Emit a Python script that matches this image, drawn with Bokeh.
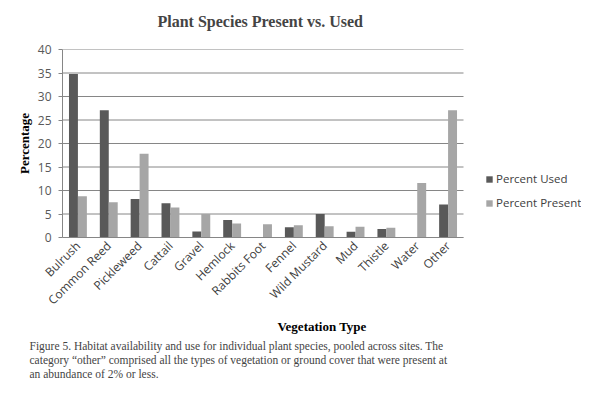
from bokeh.plotting import figure
from bokeh.models import (ColumnDataSource, Range1d, Legend, LegendItem,
                          Title, FixedTicker)
from bokeh.transform import dodge
from bokeh.embed import file_html
from bokeh.resources import INLINE

categories = ["Bulrush", "Common Reed", "Pickleweed", "Cattail", "Gravel", "Hemlock",
              "Rabbits Foot", "Fennel", "Wild Mustard", "Mud", "Thistle", "Water", "Other"]
percent_used = [34.8, 27.1, 8.2, 7.3, 1.3, 3.7, 0.0, 2.2, 5.0, 1.2, 1.8, 0.0, 7.0]
percent_present = [8.8, 7.5, 17.8, 6.4, 5.0, 3.0, 2.8, 2.6, 2.4, 2.3, 2.1, 11.6, 27.1]
y_ticks = [0, 5, 10, 15, 20, 25, 30, 35, 40]
caption = [
    "Figure 5. Habitat availability and use for individual plant species, pooled across sites.  The",
    "category \u201cother\u201d comprised all the types of vegetation or ground cover that were present at",
    "an abundance of 2% or less.",
]

n = len(categories)
centers = [i + 0.5 for i in range(n)]
src = ColumnDataSource(dict(x=centers, used=percent_used, present=percent_present))

FIG_W, FIG_H = 581, 380
LEFT, TOP, BOTTOM = 62, 49, 143
PLOT_W = 401  # pixel width occupied by the categories
frame_w = FIG_W - LEFT
x_end = n * frame_w / PLOT_W

p = figure(width=FIG_W, height=FIG_H, x_range=Range1d(0, x_end), y_range=Range1d(0, 40),
           output_backend="svg", toolbar_location=None,
           min_border_left=LEFT, min_border_right=0, min_border_top=TOP,
           min_border_bottom=BOTTOM)
p.outline_line_color = None
p.border_fill_color = "white"

p.segment(x0=[0] * len(y_ticks), x1=[n] * len(y_ticks), y0=y_ticks, y1=y_ticks,
          line_color="#868686", line_width=1)

r1 = p.vbar(x=dodge("x", -0.145), top="used", width=0.29, source=src,
            fill_color="#595959", line_color=None)
r2 = p.vbar(x=dodge("x", 0.145), top="present", width=0.29, source=src,
            fill_color="#a6a6a6", line_color=None)

# trailing empty line lifts the title away from the plot area
p.title.text = "Plant Species Present vs. Used\n"
p.title.align = "left"
p.title.offset = 95
p.title.text_font = "Liberation Serif"
p.title.text_font_style = "bold"
p.title.text_font_size = "16px"
p.title.standoff = 6

p.yaxis.ticker = FixedTicker(ticks=y_ticks)
p.yaxis.minor_tick_line_color = None
p.yaxis.major_tick_out = 4
p.yaxis.major_tick_in = 0
p.yaxis.axis_line_color = "#868686"
p.yaxis.major_tick_line_color = "#868686"
p.yaxis.major_label_text_font = "Open Sans"
p.yaxis.major_label_text_font_size = "12px"
p.yaxis.major_label_text_color = "#595959"
p.yaxis.major_label_standoff = 7
p.yaxis.axis_label = "Percentage"
p.yaxis.axis_label_text_font = "Liberation Serif"
p.yaxis.axis_label_text_font_style = "bold"
p.yaxis.axis_label_text_font_size = "13px"
p.yaxis.axis_label_text_color = "black"
p.yaxis.axis_label_standoff = 3
p.ygrid.visible = False
p.xgrid.visible = False

p.xaxis.bounds = (0, n)
p.xaxis.ticker = FixedTicker(ticks=centers)
p.xaxis.major_label_overrides = {c: name for c, name in zip(centers, categories)}
p.xaxis.minor_tick_line_color = None
p.xaxis.major_label_orientation = 0.785398
p.xaxis.major_tick_line_color = None
p.xaxis.major_tick_out = 0
p.xaxis.axis_line_color = "#868686"
p.xaxis.major_label_text_font = "Open Sans"
p.xaxis.major_label_text_font_size = "12px"
p.xaxis.major_label_text_color = "#404040"
p.xaxis.major_label_standoff = 6
p.xaxis.axis_label = "Vegetation Type"
p.xaxis.axis_label_text_font = "Liberation Serif"
p.xaxis.axis_label_text_font_style = "bold"
p.xaxis.axis_label_text_font_size = "13px"
p.xaxis.axis_label_text_color = "black"
p.xaxis.axis_label_standoff = 2

legend = Legend(items=[LegendItem(label="Percent Used", renderers=[r1]),
                       LegendItem(label="Percent Present", renderers=[r2])],
                location=(423, 27), orientation="vertical")
legend.padding = 0
legend.margin = 0
legend.spacing = 9
legend.label_height = 12
legend.glyph_height = 8
legend.glyph_width = 8
legend.label_standoff = 3
legend.border_line_alpha = 0
legend.background_fill_alpha = 0
legend.label_text_font = "Open Sans"
legend.label_text_font_size = "11.5px"
legend.label_text_color = "#404040"
p.add_layout(legend, "center")

cap = Title(text="\n".join(caption), align="left", text_font="Liberation Serif",
            text_font_size="11.5px", text_font_style="normal", text_line_height=1.2,
            offset=-33, standoff=0)
p.add_layout(cap, "below")

open("out.html", "w").write(file_html(p, INLINE))
